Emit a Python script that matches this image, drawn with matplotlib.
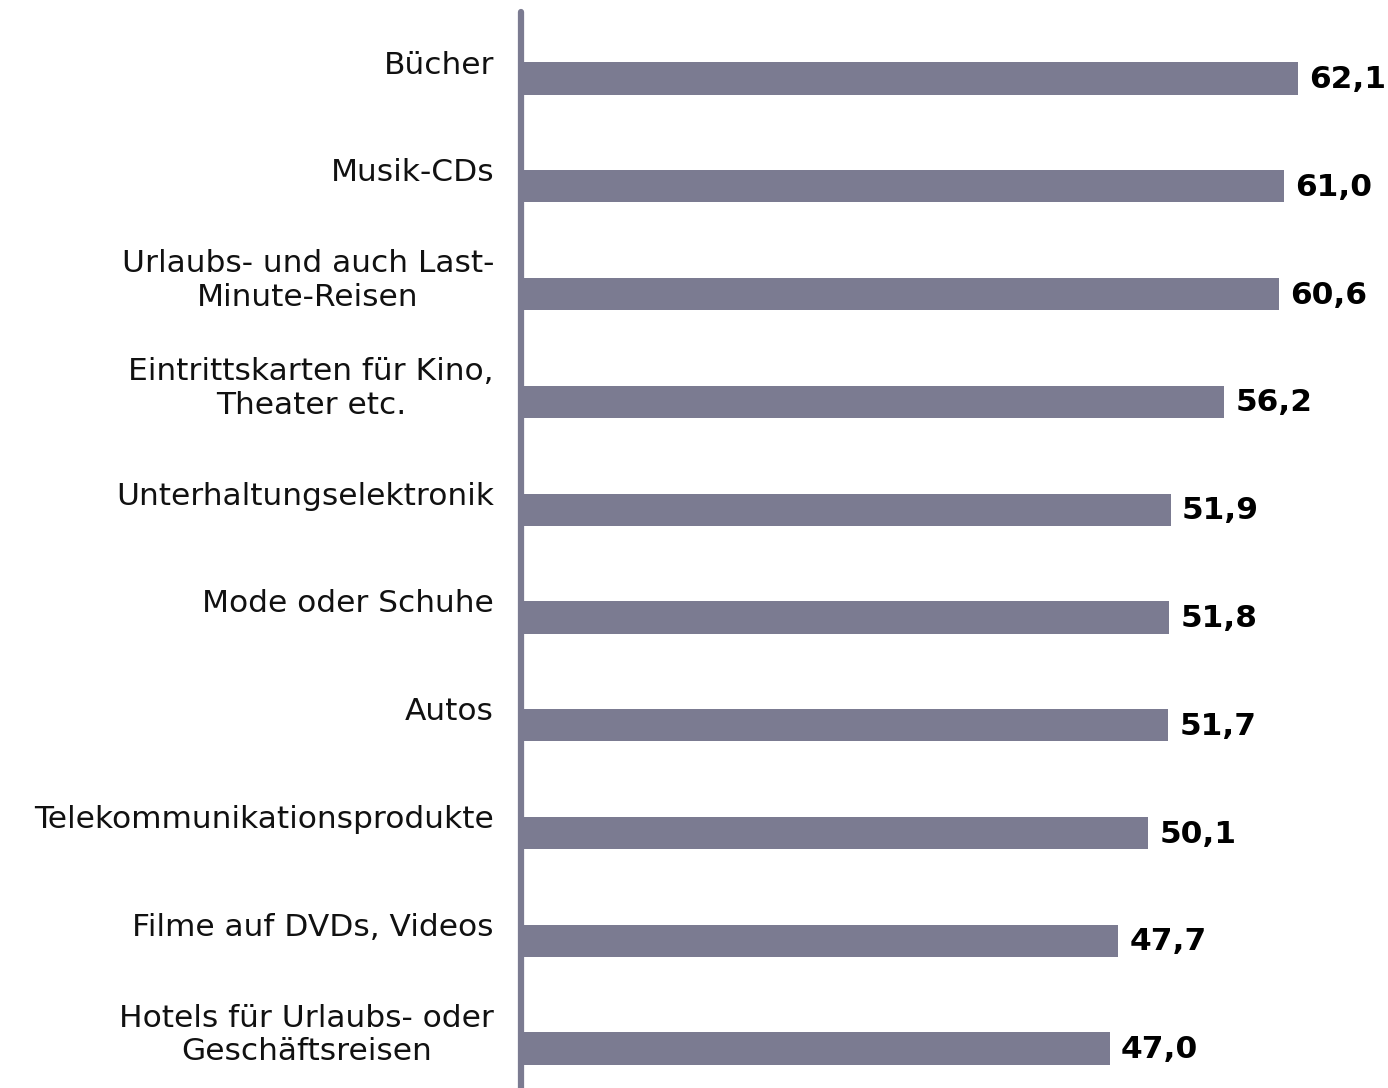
import matplotlib
matplotlib.use("Agg")
import matplotlib.pyplot as plt
from matplotlib.lines import Line2D

categories = [
    "Bücher",
    "Musik-CDs",
    "Urlaubs- und auch Last-\nMinute-Reisen",
    "Eintrittskarten für Kino,\nTheater etc.",
    "Unterhaltungselektronik",
    "Mode oder Schuhe",
    "Autos",
    "Telekommunikationsprodukte",
    "Filme auf DVDs, Videos",
    "Hotels für Urlaubs- oder\nGeschäftsreisen",
]
values = [62.1, 61.0, 60.6, 56.2, 51.9, 51.8, 51.7, 50.1, 47.7, 47.0]
value_labels = ["62,1", "61,0", "60,6", "56,2", "51,9", "51,8", "51,7", "50,1", "47,7", "47,0"]

W, H = 1388, 1088
fig = plt.figure(figsize=(W / 100, H / 100), dpi=100)
ax_left, ax_top = 521, 8
ax = fig.add_axes([ax_left / W, 0, (W - ax_left) / W, (H - ax_top) / H])

color = "#7b7b91"
scale = 12.46  # px per unit
start = 3 / scale
pos = list(range(len(categories)))
ax.barh(pos, values, height=0.30, color=color, left=start)

ax.set_xlim(0, (W - ax_left) / scale)
ax.set_ylim(9.365, -0.654)
ax.axis("off")

# vertical axis line with round caps
ax.add_line(Line2D([0, 0], [-0.62, 9.5], color=color, linewidth=4.5,
                   solid_capstyle="round", clip_on=False))

for p, c, v, lab in zip(pos, categories, values, value_labels):
    ax.text(-27 / scale, p - 0.125, c, ha="right", va="center", multialignment="center",
            fontsize=22.5, color="#111111", linespacing=1.2, family="DejaVu Sans")
    ax.text(v + start + 11 / scale, p + 0.01, lab, ha="left", va="center",
            fontsize=22.5, fontweight="bold", color="#000000", family="DejaVu Sans")

fig.savefig("out.png", dpi=100, facecolor="white")
